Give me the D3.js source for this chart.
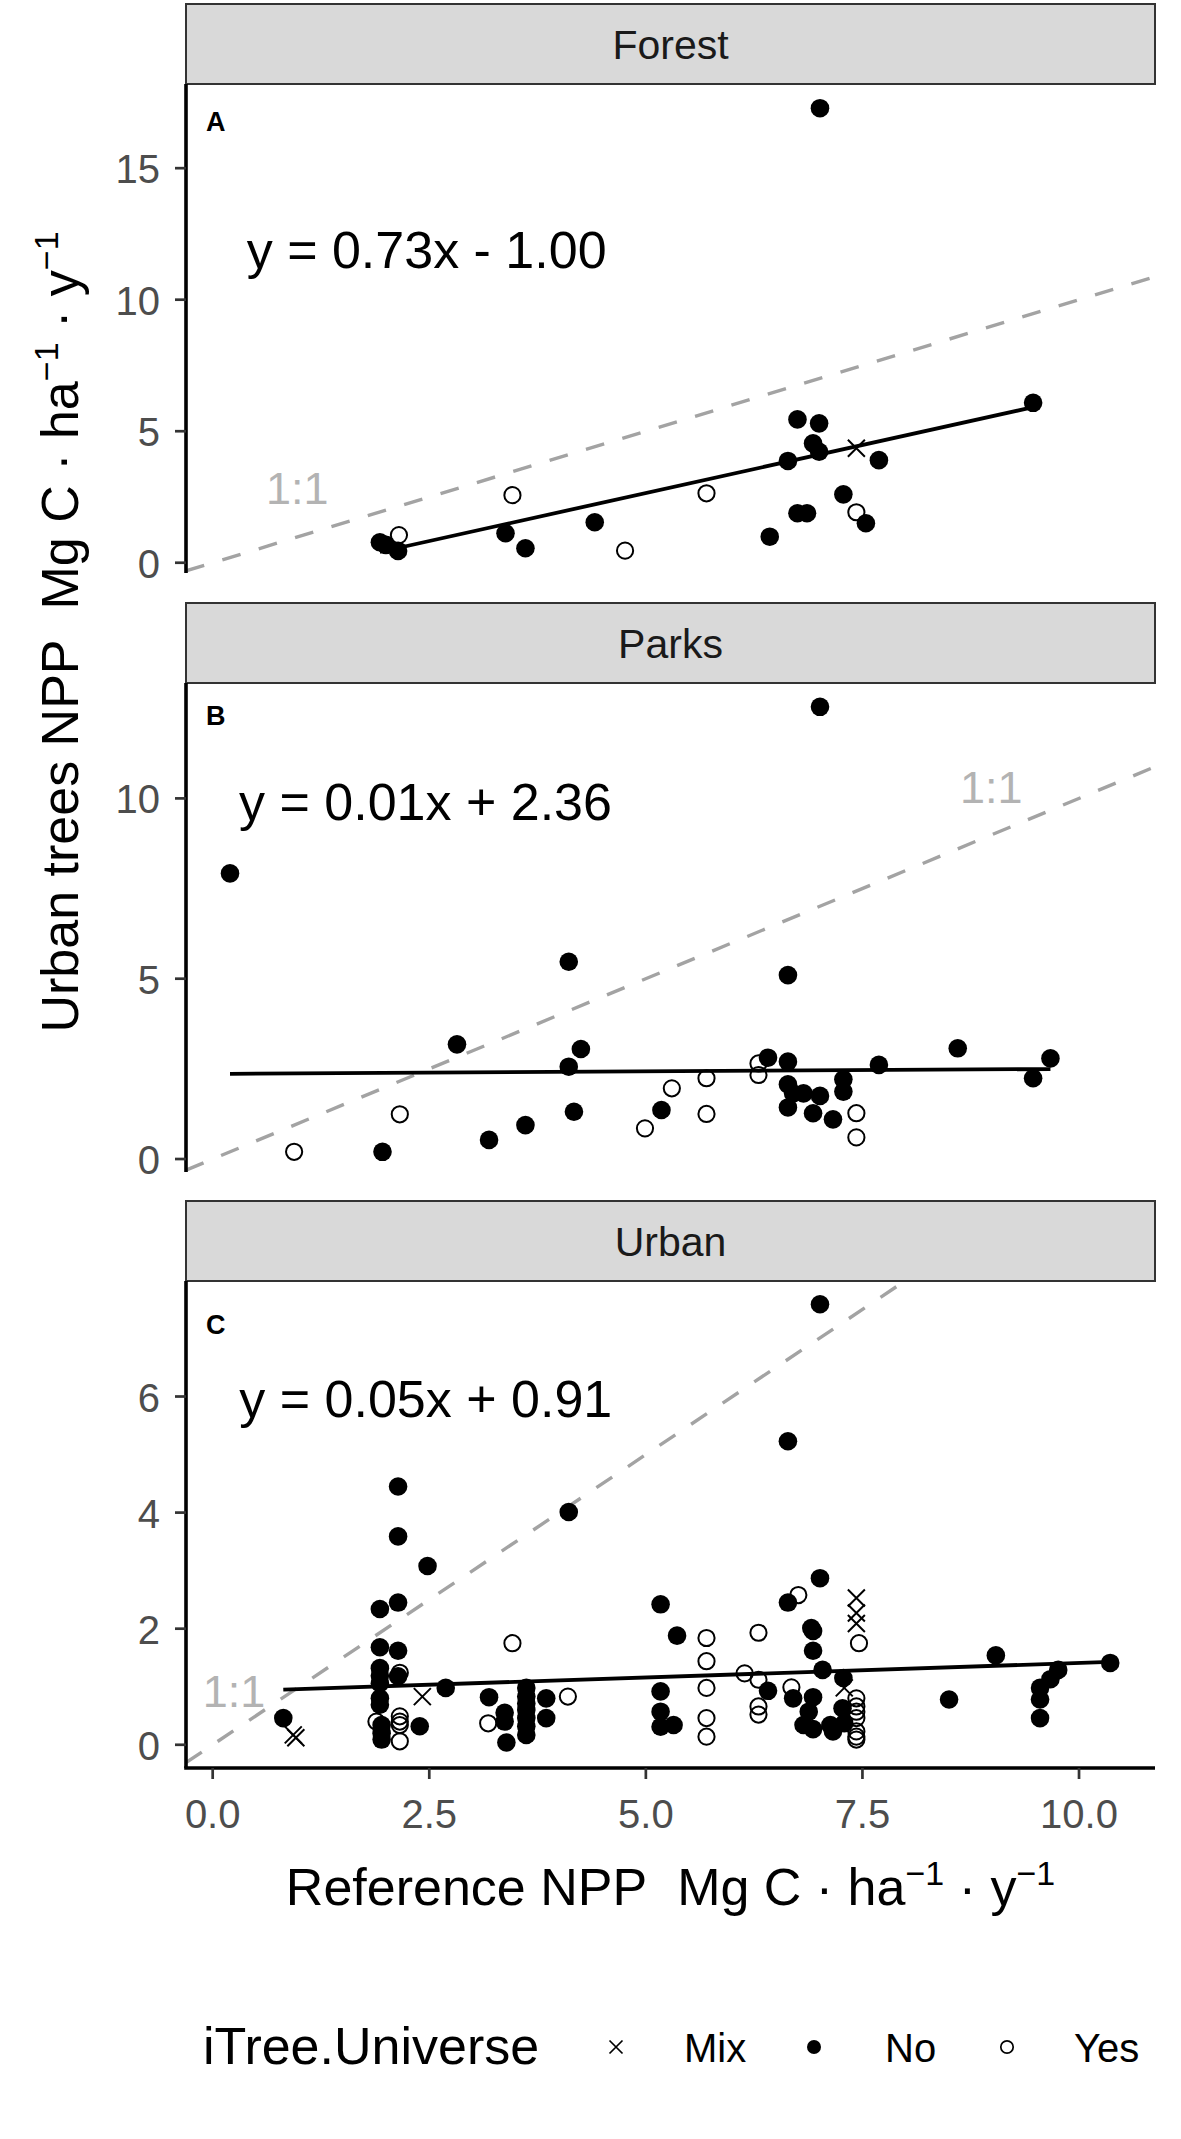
<!DOCTYPE html>
<html><head><meta charset="utf-8">
<script src="https://cdn.jsdelivr.net/npm/d3@7"></script>
<style>
body{margin:0;background:#fff}
svg{display:block}
text{font-family:"Liberation Sans",Arial,Helvetica,sans-serif}
</style>
</head><body>
<svg id="chart" width="1181" height="2139"></svg>
<script>
// ---------------- data ----------------
const panelNames = ["Forest", "Parks", "Urban"];
const panelTags = ["A", "B", "C"];
const fitLabels = ["y = 0.73x - 1.00", "y = 0.01x + 2.36", "y = 0.05x + 0.91"];
const fitSlopes = [0.73, 0.014, 0.05];
const fitIntercepts = [-1.00, 2.36, 0.91];
const xTicks = [0, 2.5, 5, 7.5, 10];
const yTicksForest = [0, 5, 10, 15];
const yTicksParks = [0, 5, 10];
const yTicksUrban = [0, 2, 4, 6];
const legendKeys = ["Mix", "No", "Yes"];

// [reference NPP, urban trees NPP, iTree.Universe]
const forestPts = [
  [1.93,0.78,"No"],[2.00,0.68,"No"],[2.14,0.45,"No"],[2.15,1.05,"Yes"],
  [3.46,2.57,"Yes"],[3.38,1.12,"No"],[3.61,0.55,"No"],[4.41,1.54,"No"],[4.76,0.46,"Yes"],
  [5.70,2.64,"Yes"],[6.43,0.99,"No"],[6.64,3.87,"No"],[6.75,5.45,"No"],[7.00,5.30,"No"],
  [6.93,4.54,"No"],[7.00,4.22,"No"],[6.75,1.88,"No"],[6.86,1.88,"No"],[7.28,2.60,"No"],
  [7.43,1.92,"Yes"],[7.54,1.50,"No"],[7.69,3.90,"No"],[7.43,4.35,"Mix"],[7.01,17.28,"No"],
  [9.47,6.08,"No"]
];
const parksPts = [
  [0.20,7.92,"No"],[0.94,0.20,"Yes"],[1.96,0.20,"No"],[2.16,1.24,"Yes"],[2.82,3.18,"No"],
  [3.19,0.53,"No"],[3.61,0.94,"No"],[4.11,5.47,"No"],[4.25,3.05,"No"],[4.11,2.56,"No"],
  [4.17,1.31,"No"],[4.99,0.85,"Yes"],[5.18,1.36,"No"],[5.30,1.96,"Yes"],[5.70,2.24,"Yes"],
  [5.70,1.25,"Yes"],[6.30,2.65,"Yes"],[6.30,2.33,"Yes"],[6.41,2.81,"No"],[6.64,2.70,"No"],
  [6.64,2.07,"No"],[6.70,1.82,"No"],[6.82,1.82,"No"],[7.01,1.75,"No"],[6.64,1.43,"No"],
  [6.93,1.27,"No"],[7.16,1.10,"No"],[7.28,2.21,"No"],[7.28,1.87,"No"],[7.43,1.27,"Yes"],
  [7.43,0.60,"Yes"],[7.69,2.61,"No"],[8.60,3.07,"No"],[9.67,2.79,"No"],[9.47,2.24,"No"],
  [6.64,5.10,"No"],[7.01,12.54,"No"]
];
const urbanPts = [
  [0.815,0.46,"No"],[0.93,0.17,"Mix"],[0.96,0.12,"Mix"],
  [2.14,4.45,"No"],[2.14,3.59,"No"],[2.14,2.45,"No"],[2.14,1.62,"No"],[2.14,1.18,"No"],
  [2.48,3.08,"No"],
  [1.93,2.34,"No"],[1.93,1.68,"No"],[1.93,1.32,"No"],[1.93,1.19,"No"],[1.93,1.06,"No"],
  [1.93,0.80,"No"],[1.93,0.69,"No"],[1.95,0.34,"No"],[1.95,0.20,"No"],[1.95,0.09,"No"],
  [1.89,0.40,"Yes"],[2.16,1.24,"Yes"],[2.16,0.49,"Yes"],[2.16,0.40,"Yes"],[2.16,0.34,"Yes"],
  [2.16,0.06,"Yes"],[2.39,0.32,"No"],[2.42,0.83,"Mix"],[2.69,0.98,"No"],
  [3.19,0.82,"No"],[3.18,0.37,"Yes"],[3.37,0.55,"No"],[3.37,0.40,"No"],[3.39,0.04,"No"],
  [3.46,1.75,"Yes"],
  [3.62,0.98,"No"],[3.62,0.83,"No"],[3.62,0.71,"No"],[3.62,0.60,"No"],[3.62,0.46,"No"],
  [3.62,0.32,"No"],[3.62,0.17,"No"],
  [3.85,0.80,"No"],[3.85,0.46,"No"],[4.10,0.83,"Yes"],[4.11,4.01,"No"],
  [5.17,2.42,"No"],[5.36,1.88,"No"],[5.17,0.92,"No"],[5.17,0.57,"No"],[5.17,0.31,"No"],
  [5.32,0.34,"No"],
  [5.70,1.84,"Yes"],[5.70,1.44,"Yes"],[5.70,0.98,"Yes"],[5.70,0.46,"Yes"],[5.70,0.14,"Yes"],
  [6.14,1.23,"Yes"],[6.30,1.93,"Yes"],[6.30,1.12,"Yes"],[6.30,0.66,"Yes"],[6.30,0.52,"Yes"],
  [6.41,0.93,"No"],[6.68,0.99,"Yes"],[6.70,0.80,"No"],[6.64,2.45,"No"],[6.76,2.58,"Yes"],
  [7.01,2.87,"No"],[6.91,2.01,"No"],[6.93,1.96,"No"],[6.93,1.62,"No"],[7.04,1.29,"No"],
  [6.93,0.82,"No"],[6.88,0.57,"No"],[6.82,0.34,"No"],[6.93,0.27,"No"],[7.13,0.34,"No"],
  [7.16,0.23,"No"],[7.28,1.15,"No"],[7.29,0.98,"Mix"],[7.27,0.63,"No"],[7.29,0.37,"No"],
  [7.43,2.53,"Mix"],[7.43,2.27,"Mix"],[7.43,2.09,"Mix"],[7.46,1.75,"Yes"],
  [7.43,0.80,"Yes"],[7.43,0.66,"Yes"],[7.43,0.57,"Yes"],[7.43,0.46,"Yes"],[7.43,0.23,"Yes"],
  [7.43,0.14,"Yes"],[7.43,0.09,"Yes"],
  [6.64,5.23,"No"],[7.01,7.59,"No"],
  [8.50,0.78,"No"],[9.04,1.54,"No"],[9.55,0.98,"No"],[9.55,0.78,"No"],[9.55,0.46,"No"],
  [9.67,1.13,"No"],[9.76,1.29,"No"],[10.36,1.41,"No"]
];

// ---------------- layout ----------------
const xL = 186, xR = 1155;
const x = d3.scaleLinear().domain([-0.308, 10.877]).range([xL, xR]);

const layout = [
  {stripTop: 4,    top: 84,   bottom: 573,  yDom: [-0.39, 18.2], ticks: yTicksForest, pts: forestPts,
   eq: [246.7, 268], tag: [206, 131], one: [266, 504]},
  {stripTop: 603,  top: 683,  bottom: 1172, yDom: [-0.36, 13.2], ticks: yTicksParks, pts: parksPts,
   eq: [239, 820], tag: [206, 725], one: [960, 802.7]},
  {stripTop: 1201, top: 1281, bottom: 1768, yDom: [-0.40, 7.99], ticks: yTicksUrban, pts: urbanPts,
   eq: [239.3, 1416.7], tag: [206, 1334], one: [202.7, 1706.7]}
];

const svg = d3.select("#chart");
svg.append("rect").attr("width", 1181).attr("height", 2139).attr("fill", "#fff");
const defs = svg.append("defs");

function drawSymbol(g, type, cx, cy, s) {
  if (type === "No") {
    g.append("circle").attr("cx", cx).attr("cy", cy).attr("r", s.r).attr("fill", "#000");
  } else if (type === "Yes") {
    g.append("circle").attr("cx", cx).attr("cy", cy).attr("r", s.ro)
      .attr("fill", "none").attr("stroke", "#000").attr("stroke-width", s.sw);
  } else {
    const h = s.h;
    g.append("path")
      .attr("d", `M${cx-h},${cy-h}L${cx+h},${cy+h}M${cx-h},${cy+h}L${cx+h},${cy-h}`)
      .attr("stroke", "#000").attr("stroke-width", s.sw).attr("fill", "none");
  }
}

layout.forEach((L, i) => {
  const y = d3.scaleLinear().domain(L.yDom).range([L.bottom, L.top]);
  const g = svg.append("g");

  // strip
  g.append("rect").attr("x", xL).attr("y", L.stripTop).attr("width", xR - xL).attr("height", L.top - L.stripTop)
    .attr("fill", "#d9d9d9").attr("stroke", "#333").attr("stroke-width", 2);
  g.append("text").attr("x", (xL + xR) / 2).attr("y", (L.stripTop + L.top) / 2 + 15)
    .attr("text-anchor", "middle").attr("font-size", 41).attr("fill", "#1a1a1a").text(panelNames[i]);

  // clip
  const cid = "clip" + i;
  defs.append("clipPath").attr("id", cid).append("rect")
    .attr("x", xL).attr("y", L.top).attr("width", xR - xL).attr("height", L.bottom - L.top);

  // 1:1 line
  const xd = x.domain();
  g.append("line").attr("clip-path", `url(#${cid})`)
    .attr("x1", x(xd[0])).attr("y1", y(xd[0])).attr("x2", x(xd[1])).attr("y2", y(xd[1]))
    .attr("stroke", "#a3a3a3").attr("stroke-width", 3.4).attr("stroke-dasharray", "19,19");

  // points
  const pg = g.append("g");
  L.pts.forEach(p => drawSymbol(pg, p[2], x(p[0]), y(p[1]), {r: 9.3, ro: 8.1, sw: 2, h: 8.5}));

  // regression line over data range
  const ext = d3.extent(L.pts, p => p[0]);
  const f = v => fitSlopes[i] * v + fitIntercepts[i];
  g.append("line").attr("x1", x(ext[0])).attr("y1", y(f(ext[0])))
    .attr("x2", x(ext[1])).attr("y2", y(f(ext[1])))
    .attr("stroke", "#000").attr("stroke-width", 3.8);

  // left axis
  g.append("line").attr("x1", xL).attr("x2", xL).attr("y1", L.top).attr("y2", L.bottom)
    .attr("stroke", "#000").attr("stroke-width", 3.6);
  L.ticks.forEach(t => {
    g.append("line").attr("x1", xL - 11).attr("x2", xL).attr("y1", y(t)).attr("y2", y(t))
      .attr("stroke", "#333").attr("stroke-width", 2.7);
    g.append("text").attr("x", 160).attr("y", y(t) + 15).attr("text-anchor", "end")
      .attr("font-size", 40).attr("fill", "#4d4d4d").text(t);
  });

  // annotations
  g.append("text").attr("x", L.tag[0]).attr("y", L.tag[1]).attr("font-size", 27)
    .attr("font-weight", "bold").attr("fill", "#000").text(panelTags[i]);
  g.append("text").attr("x", L.eq[0]).attr("y", L.eq[1]).attr("font-size", 52)
    .attr("fill", "#000").text(fitLabels[i]);
  g.append("text").attr("x", L.one[0]).attr("y", L.one[1]).attr("font-size", 45)
    .attr("fill", "#b3b3b3").text("1:1");

  // bottom axis only on last panel
  if (i === layout.length - 1) {
    g.append("line").attr("x1", xL - 1.8).attr("x2", xR).attr("y1", L.bottom).attr("y2", L.bottom)
      .attr("stroke", "#000").attr("stroke-width", 3.6);
    xTicks.forEach(t => {
      g.append("line").attr("x1", x(t)).attr("x2", x(t)).attr("y1", L.bottom).attr("y2", L.bottom + 11)
        .attr("stroke", "#333").attr("stroke-width", 2.7);
      g.append("text").attr("x", x(t)).attr("y", 1828).attr("text-anchor", "middle")
        .attr("font-size", 40).attr("fill", "#4d4d4d").text(d3.format(".1f")(t));
    });
  }
});

// axis titles
function unitTitle(t, lead) {
  t.append("tspan").text(lead);
  t.append("tspan").attr("dx", 30).text("Mg C \u00B7 ha");
  t.append("tspan").attr("font-size", 34).attr("dy", -20).text("\u22121");
  t.append("tspan").attr("dy", 20).text(" \u00B7 y");
  t.append("tspan").attr("font-size", 34).attr("dy", -20).text("\u22121");
}
const xt = svg.append("text").attr("x", (xL + xR) / 2).attr("y", 1905).attr("text-anchor", "middle")
  .attr("font-size", 52).attr("fill", "#000");
unitTitle(xt, "Reference NPP");
const yt = svg.append("text").attr("transform", "translate(78,632) rotate(-90)").attr("text-anchor", "middle")
  .attr("font-size", 52).attr("fill", "#000");
unitTitle(yt, "Urban trees NPP");

// legend
const lg = svg.append("g");
lg.append("text").attr("x", 203).attr("y", 2064).attr("font-size", 52).attr("fill", "#000").text("iTree.Universe");
const keyX = [616, 814, 1007], labX = [684, 885, 1074];
legendKeys.forEach((k, j) => {
  drawSymbol(lg, k, keyX[j], 2047, {r: 7, ro: 6.2, sw: 1.7, h: 6.5});
  lg.append("text").attr("x", labX[j]).attr("y", 2062).attr("font-size", 40).attr("fill", "#000").text(k);
});
</script>
</body></html>
